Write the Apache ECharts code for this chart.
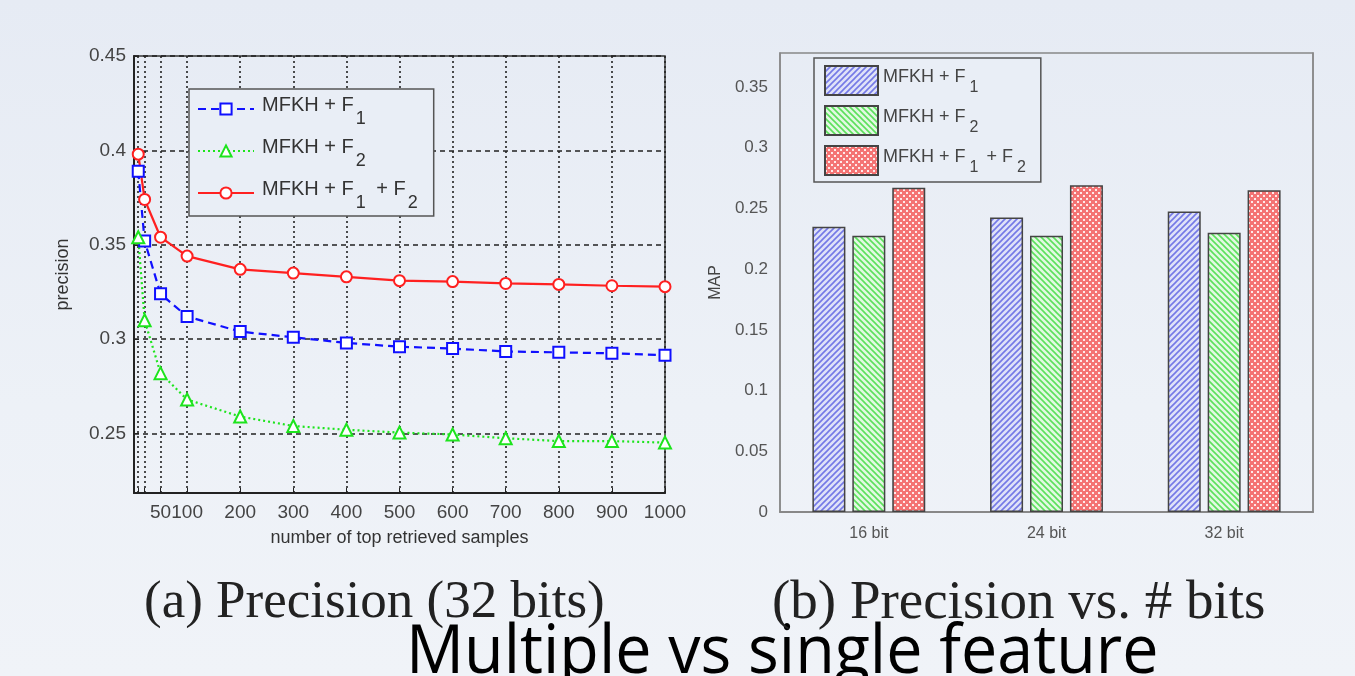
<!DOCTYPE html>
<html>
<head>
<meta charset="utf-8">
<script src="https://cdn.jsdelivr.net/npm/echarts@6/dist/echarts.min.js"></script>
<style>
  html, body { margin: 0; padding: 0; }
  body { background: linear-gradient(180deg, #e6ebf4 0%, #edf1f7 60%, #f0f3f8 100%); }
  #main { width: 1355px; height: 676px; }
</style>
</head>
<body>
<div id="main"></div>
<script>
// ---- data (a) precision vs number of retrieved samples, 32 bits
var xVals   = [8, 20, 50, 100, 200, 300, 400, 500, 600, 700, 800, 900, 1000];
var xLabels = [50, 100, 200, 300, 400, 500, 600, 700, 800, 900, 1000];
var precF1   = [0.389, 0.352, 0.324, 0.312, 0.304, 0.301, 0.298, 0.296, 0.295, 0.2935, 0.293, 0.2925, 0.2915];
var precF2   = [0.354, 0.310, 0.282, 0.268, 0.259, 0.254, 0.252, 0.2505, 0.2495, 0.2475, 0.246, 0.246, 0.2452];
var precF1F2 = [0.398, 0.374, 0.354, 0.344, 0.337, 0.335, 0.333, 0.331, 0.3305, 0.3295, 0.329, 0.3283, 0.3278];
var precTicks = [0.25, 0.3, 0.35, 0.4, 0.45];

// ---- data (b) MAP vs number of bits
var bitCats = ['16 bit', '24 bit', '32 bit'];
var mapF1   = [0.235, 0.2425, 0.2475];
var mapF2   = [0.2275, 0.2275, 0.230];
var mapF1F2 = [0.267, 0.269, 0.265];
var mapTicks = [0, 0.05, 0.1, 0.15, 0.2, 0.25, 0.3, 0.35];

// hatch patterns for the bars
function hatch(bg, fg, dir){
	var c = document.createElement('canvas');
	c.width = 6; c.height = 6;
	var g = c.getContext('2d');
	g.fillStyle = bg; g.fillRect(0, 0, 6, 6);
	g.strokeStyle = fg; g.lineWidth = 1.6;
	g.beginPath();
	if (dir > 0){
		g.moveTo(-1, 7); g.lineTo(7, -1);
		g.moveTo(-4, 4); g.lineTo(4, -4);
		g.moveTo(2, 10); g.lineTo(10, 2);
	} else {
		g.moveTo(-1, -1); g.lineTo(7, 7);
		g.moveTo(-4, 2); g.lineTo(4, 10);
		g.moveTo(2, -4); g.lineTo(10, 4);
	}
	g.stroke();
	return c;
}
function dots(){
	var c = document.createElement('canvas');
	c.width = 6; c.height = 6;
	var g = c.getContext('2d');
	g.fillStyle = '#f47474'; g.fillRect(0, 0, 6, 6);
	g.fillStyle = 'rgba(255,255,255,0.85)';
	g.fillRect(0, 0, 2, 2);
	g.fillRect(3, 3, 2, 2);
	return c;
}
var patBlue  = { image: hatch('#dfe2f8', '#7479e6', 1), repeat: 'repeat' };
var patGreen = { image: hatch('#e2f8e2', '#5ce05c', -1), repeat: 'repeat' };
var patRed   = { image: dots(), repeat: 'repeat' };

var sans = 'Liberation Sans';
var legendBg = '#e9eef6';

function legendFmt(n){
	if (n === 'F1') return '{m|MFKH + F}{s|1}';
	if (n === 'F2') return '{m|MFKH + F}{s|2}';
	return '{m|MFKH + F}{s|1}{m| + F}{s|2}';
}

var myChart = echarts.init(document.getElementById('main'));

var option = {
	animation: false,
	textStyle: { fontFamily: sans },
	title: [
		{
			text: '(a) Precision (32 bits)',
			left: 139, top: 572,
			textStyle: { fontFamily: 'Liberation Serif', fontSize: 53, fontWeight: 'normal', color: '#222' }
		},
		{
			text: '(b) Precision vs. # bits',
			left: 767, top: 571,
			textStyle: { fontFamily: 'Liberation Serif', fontSize: 55, fontWeight: 'normal', color: '#222' }
		}
	],
	graphic: [{
		type: 'text',
		left: 406, top: 620,
		scaleX: 0.95,
		style: { text: 'Multiple vs single feature', font: '68px "Open Sans"', fill: '#000' }
	}],
	legend: [
		{
			data: ['F1', 'F2', 'F12'],
			orient: 'vertical',
			left: 189, top: 89,
			padding: [1, 14, 4, 8],
			itemGap: 4,
			itemWidth: 56, itemHeight: 14,
			backgroundColor: legendBg,
			borderColor: '#555', borderWidth: 1.5,
			formatter: legendFmt,
			textStyle: {
				rich: {
					m: { fontSize: 20, color: '#333', fontFamily: sans, lineHeight: 38, verticalAlign: 'top', padding: [5, 0, 0, 3] },
					s: { fontSize: 18, color: '#333', fontFamily: sans, lineHeight: 38, verticalAlign: 'bottom', padding: [0, 2, 0, 2] }
				}
			}
		},
		{
			data: ['MF1', 'MF2', 'MF12'],
			orient: 'vertical',
			left: 814, top: 58,
			padding: [7, 12, 6, 10],
			itemGap: 9,
			itemWidth: 53, itemHeight: 29,
			icon: 'rect',
			backgroundColor: legendBg,
			borderColor: '#555', borderWidth: 1.5,
			formatter: function(n){ return legendFmt(n.substring(1)); },
			textStyle: {
				rich: {
					m: { fontSize: 18, color: '#444', fontFamily: sans, lineHeight: 30, verticalAlign: 'top', padding: [3, 0, 0, 0] },
					s: { fontSize: 16, color: '#444', fontFamily: sans, lineHeight: 30, verticalAlign: 'bottom', padding: [0, 3, 0, 4] }
				}
			}
		}
	],
	grid: [
		{ left: 134, top: 56, width: 531, height: 437, show: true, borderColor: '#333', borderWidth: 1.5 },
		{ left: 780, top: 53, width: 533, height: 459, show: true, borderColor: '#888', borderWidth: 1.5 }
	],
	xAxis: [
		{
			gridIndex: 0, type: 'value', min: 0, max: 1000,
			name: 'number of top retrieved samples', nameLocation: 'middle', nameGap: 36,
			nameTextStyle: { fontSize: 18, color: '#333' },
			axisLine: { lineStyle: { color: '#222', width: 2 } },
			axisTick: { inside: true, length: 5, customValues: xVals, lineStyle: { color: '#222' } },
			axisLabel: {
				customValues: xLabels, fontSize: 19, color: '#444', margin: 10,
				showMinLabel: true, showMaxLabel: true, hideOverlap: false,
				formatter: function(v){ return String(v); }
			},
			splitLine: { show: true, lineStyle: { color: '#222', type: [2, 3], width: 1.6 } }
		},
		{
			gridIndex: 1, type: 'category', data: bitCats,
			axisLine: { lineStyle: { color: '#888', width: 1.5 } },
			axisTick: { show: false },
			axisLabel: { fontSize: 16, color: '#555', margin: 14 },
			splitLine: { show: false }
		},
		{
			gridIndex: 1, type: 'category', data: bitCats, position: 'top',
			axisLine: { lineStyle: { color: '#888', width: 1.5 } },
			axisTick: { inside: true, alignWithLabel: true, length: 5, lineStyle: { color: '#666' } },
			axisLabel: { show: false }
		}
	],
	yAxis: [
		{
			gridIndex: 0, type: 'value', min: 0.2185, max: 0.45,
			name: 'precision', nameLocation: 'middle', nameGap: 62, nameRotate: 90,
			nameTextStyle: { fontSize: 18, color: '#333' },
			axisLine: { show: true, lineStyle: { color: '#222', width: 2 } },
			axisTick: { inside: true, length: 5, customValues: precTicks, lineStyle: { color: '#222' } },
			axisLabel: { customValues: precTicks, fontSize: 19, color: '#444', margin: 8 },
			splitLine: { show: true, lineStyle: { color: '#222', type: [5, 4], width: 1.6 } }
		},
		{
			gridIndex: 1, type: 'value', min: 0, max: 0.378,
			name: 'MAP', nameLocation: 'middle', nameGap: 56, nameRotate: 90,
			nameTextStyle: { fontSize: 16, color: '#444' },
			axisLine: { show: true, lineStyle: { color: '#888', width: 1.5 } },
			axisTick: { inside: true, length: 5, customValues: mapTicks, lineStyle: { color: '#666' } },
			axisLabel: { customValues: mapTicks, fontSize: 17, color: '#555', margin: 12 },
			splitLine: { show: false }
		},
		{
			gridIndex: 1, type: 'value', min: 0, max: 0.378, position: 'right',
			axisLine: { show: true, lineStyle: { color: '#888', width: 1.5 } },
			axisTick: { inside: true, length: 5, customValues: mapTicks, lineStyle: { color: '#666' } },
			axisLabel: { show: false },
			splitLine: { show: false }
		}
	],
	series: [
		{
			name: 'F1', type: 'line', xAxisIndex: 0, yAxisIndex: 0,
			data: xVals.map(function(x, i){ return [x, precF1[i]]; }),
			color: '#1010ff',
			symbol: 'emptyRect', symbolSize: 11,
			lineStyle: { width: 2.2, type: [8, 5] },
			itemStyle: { borderWidth: 2 }
		},
		{
			name: 'F2', type: 'line', xAxisIndex: 0, yAxisIndex: 0,
			data: xVals.map(function(x, i){ return [x, precF2[i]]; }),
			color: '#1de41d',
			symbol: 'emptyTriangle', symbolSize: 12,
			lineStyle: { width: 2.2, type: [2, 3] },
			itemStyle: { borderWidth: 2 }
		},
		{
			name: 'F12', type: 'line', xAxisIndex: 0, yAxisIndex: 0,
			data: xVals.map(function(x, i){ return [x, precF1F2[i]]; }),
			color: '#ff2020',
			symbol: 'emptyCircle', symbolSize: 11,
			lineStyle: { width: 2.2 },
			itemStyle: { borderWidth: 2 }
		},
		{
			name: 'MF1', type: 'bar', xAxisIndex: 1, yAxisIndex: 1,
			data: mapF1, barWidth: 33, barGap: '21%',
			itemStyle: { color: patBlue, borderColor: '#444', borderWidth: 1.5 }
		},
		{
			name: 'MF2', type: 'bar', xAxisIndex: 1, yAxisIndex: 1,
			data: mapF2, barWidth: 33, barGap: '21%',
			itemStyle: { color: patGreen, borderColor: '#444', borderWidth: 1.5 }
		},
		{
			name: 'MF12', type: 'bar', xAxisIndex: 1, yAxisIndex: 1,
			data: mapF1F2, barWidth: 33, barGap: '21%',
			itemStyle: { color: patRed, borderColor: '#444', borderWidth: 1.5 }
		}
	]
};
myChart.setOption(option);
</script>
</body>
</html>
